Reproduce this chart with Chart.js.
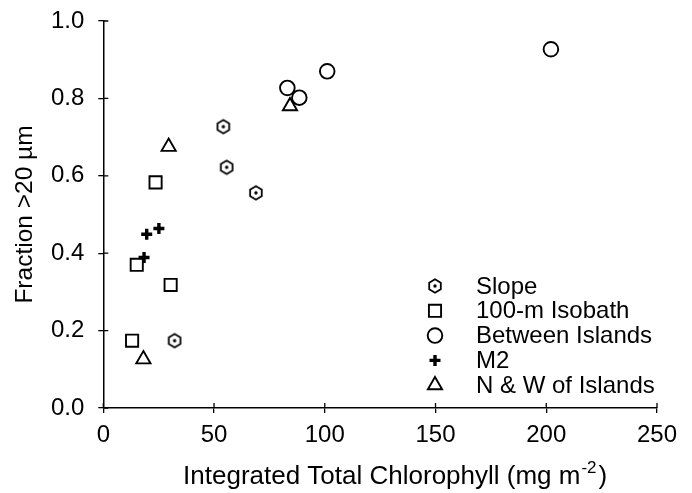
<!DOCTYPE html>
<html>
<head>
<meta charset="utf-8">
<script src="https://cdn.jsdelivr.net/npm/chart.js@4.4.1/dist/chart.umd.min.js"></script>
<style>
  body { margin: 0; background: #fff; }
  canvas { display: block; }
</style>
</head>
<body>
<canvas id="chart" width="692" height="493"></canvas>
<script>
// station groups: integrated chlorophyll (mg m-2) vs. fraction > 20 um
var slopeX = [54.2, 55.7, 68.9, 32.2];
var slopeY = [0.727, 0.622, 0.556, 0.174];

var isobathX = [23.6, 15.1, 30.4, 13.0];
var isobathY = [0.583, 0.370, 0.318, 0.174];

var islandsX = [83.1, 88.5, 101.1, 202.1];
var islandsY = [0.827, 0.802, 0.870, 0.927];

var m2X = [19.6, 25.1, 18.4];
var m2Y = [0.449, 0.464, 0.389];

var nwX = [29.5, 18.1, 84.3];
var nwY = [0.675, 0.126, 0.780];

var seriesNames = ['Slope', '100-m Isobath', 'Between Islands', 'M2', 'N & W of Islands'];
var xTicks = [0, 50, 100, 150, 200, 250];
var yTicks = [0.0, 0.2, 0.4, 0.6, 0.8, 1.0];

var FONT = '"Liberation Sans", Arial, sans-serif';

// hexagon with a dot in the middle, used as a custom point style
function hexMarker() {
  var c = document.createElement('canvas');
  c.width = 18; c.height = 18;
  var g = c.getContext('2d');
  var r = 6.7;
  g.strokeStyle = '#000';
  g.lineWidth = 1.8;
  g.beginPath();
  for (var i = 0; i < 6; i++) {
    var a = Math.PI / 2 + i * Math.PI / 3;
    var px = 9 + r * Math.cos(a), py = 9 + r * Math.sin(a);
    if (i === 0) g.moveTo(px, py); else g.lineTo(px, py);
  }
  g.closePath();
  g.stroke();
  g.fillStyle = '#000';
  g.beginPath();
  g.arc(9, 9, 1.7, 0, Math.PI * 2);
  g.fill();
  return c;
}

function toPoints(xs, ys) {
  return xs.map(function (x, i) { return { x: x, y: ys[i] }; });
}

function series(name, xs, ys, style, radius, width) {
  return {
    label: name,
    data: toPoints(xs, ys),
    pointStyle: style,
    pointRadius: radius,
    pointHoverRadius: radius,
    pointBorderWidth: width,
    pointBorderColor: '#000',
    pointBackgroundColor: 'rgba(0,0,0,0)',
    showLine: false
  };
}

var hex = hexMarker();

// ticks that cross the axis line: the scale draws the outer half, this adds the inner half
var innerTicks = {
  id: 'innerTicks',
  afterDraw: function (chart) {
    var ctx = chart.ctx, area = chart.chartArea;
    var xs = chart.scales.x, ys = chart.scales.y;
    ctx.save();
    ctx.strokeStyle = '#000';
    ctx.lineWidth = 1.3;
    ctx.beginPath();
    xTicks.forEach(function (v) {
      var p = xs.getPixelForValue(v);
      ctx.moveTo(p, area.bottom);
      ctx.lineTo(p, area.bottom - 5);
    });
    yTicks.forEach(function (v) {
      var p = ys.getPixelForValue(v);
      ctx.moveTo(area.left, p);
      ctx.lineTo(area.left + 5, p);
    });
    ctx.stroke();
    ctx.restore();
  }
};

// legend drawn inside the plot, lower right
var innerLegend = {
  id: 'innerLegend',
  afterDraw: function (chart) {
    var ctx = chart.ctx, area = chart.chartArea;
    var mx = area.right - 222, tx = area.right - 181;
    var y0 = area.bottom - 122, step = 24.8;
    ctx.save();
    ctx.font = '24px ' + FONT;
    ctx.textBaseline = 'middle';
    ctx.textAlign = 'left';
    chart.data.datasets.forEach(function (ds, i) {
      var y = y0 + i * step;
      ctx.strokeStyle = '#000';
      ctx.fillStyle = 'rgba(0,0,0,0)';
      ctx.lineWidth = ds.pointBorderWidth;
      Chart.helpers.drawPoint(ctx, {
        pointStyle: ds.pointStyle,
        radius: ds.pointRadius,
        borderWidth: ds.pointBorderWidth,
        rotation: 0
      }, mx, y);
      ctx.fillStyle = '#000';
      ctx.fillText(ds.label, tx, y + 1);
    });
    ctx.restore();
  }
};

// axis titles; the x title carries a superscript exponent
var axisTitles = {
  id: 'axisTitles',
  afterDraw: function (chart) {
    var ctx = chart.ctx, area = chart.chartArea;
    ctx.save();
    ctx.fillStyle = '#000';

    var main = 'Integrated Total Chlorophyll (mg m';
    var sup = '-2';
    var tail = ')';
    ctx.textBaseline = 'alphabetic';
    ctx.textAlign = 'left';
    ctx.font = '26px ' + FONT;
    var w1 = ctx.measureText(main).width;
    var w3 = ctx.measureText(tail).width;
    ctx.font = '17px ' + FONT;
    var w2 = ctx.measureText(sup).width;
    var x = (area.left + area.right) / 2 + 15 - (w1 + w2 + w3 + 3) / 2;
    var y = area.bottom + 76;
    ctx.font = '26px ' + FONT;
    ctx.fillText(main, x, y);
    ctx.font = '17px ' + FONT;
    ctx.fillText(sup, x + w1 + 1, y - 11);
    ctx.font = '26px ' + FONT;
    ctx.fillText(tail, x + w1 + w2 + 3, y);

    ctx.translate(25, (area.top + area.bottom) / 2);
    ctx.rotate(-Math.PI / 2);
    ctx.textAlign = 'center';
    ctx.textBaseline = 'middle';
    ctx.font = '24.5px ' + FONT;
    ctx.fillText('Fraction >20 \u00b5m', 0, 0);
    ctx.restore();
  }
};

new Chart(document.getElementById('chart'), {
  type: 'scatter',
  data: {
    datasets: [
      series(seriesNames[0], slopeX, slopeY, hex, 9, 1.8),
      series(seriesNames[1], isobathX, isobathY, 'rect', 8.6, 1.9),
      series(seriesNames[2], islandsX, islandsY, 'circle', 7.3, 1.9),
      series(seriesNames[3], m2X, m2Y, 'cross', 5.5, 3.4),
      series(seriesNames[4], nwX, nwY, 'triangle', 8.2, 1.9)
    ]
  },
  options: {
    responsive: false,
    animation: false,
    layout: { padding: { top: 21, right: 35, left: 0, bottom: 0 } },
    plugins: {
      legend: { display: false },
      tooltip: { enabled: false }
    },
    scales: {
      x: {
        type: 'linear',
        min: 0,
        max: 250,
        afterBuildTicks: function (scale) {
          scale.ticks = xTicks.map(function (v) { return { value: v }; });
        },
        afterFit: function (scale) { scale.height = 85; },
        grid: { drawOnChartArea: false, drawTicks: true, tickLength: 5, color: '#000', lineWidth: 1.3 },
        border: { color: '#000', width: 1.5 },
        ticks: {
          color: '#000',
          padding: 8,
          maxRotation: 0,
          font: { family: FONT, size: 24 },
          callback: function (v) { return v; }
        }
      },
      y: {
        type: 'linear',
        min: 0,
        max: 1,
        afterBuildTicks: function (scale) {
          scale.ticks = yTicks.map(function (v) { return { value: v }; });
        },
        afterFit: function (scale) {
          scale.width = 103.3;
          // labels fit inside the top margin, so no extra room is needed
          scale.paddingTop = 0;
          scale.paddingBottom = 0;
        },
        grid: { drawOnChartArea: false, drawTicks: true, tickLength: 5, color: '#000', lineWidth: 1.3 },
        border: { color: '#000', width: 1.5 },
        ticks: {
          color: '#000',
          padding: 14,
          font: { family: FONT, size: 24 },
          callback: function (v) { return v.toFixed(1); }
        }
      }
    }
  },
  plugins: [innerTicks, innerLegend, axisTitles]
});
</script>
</body>
</html>
